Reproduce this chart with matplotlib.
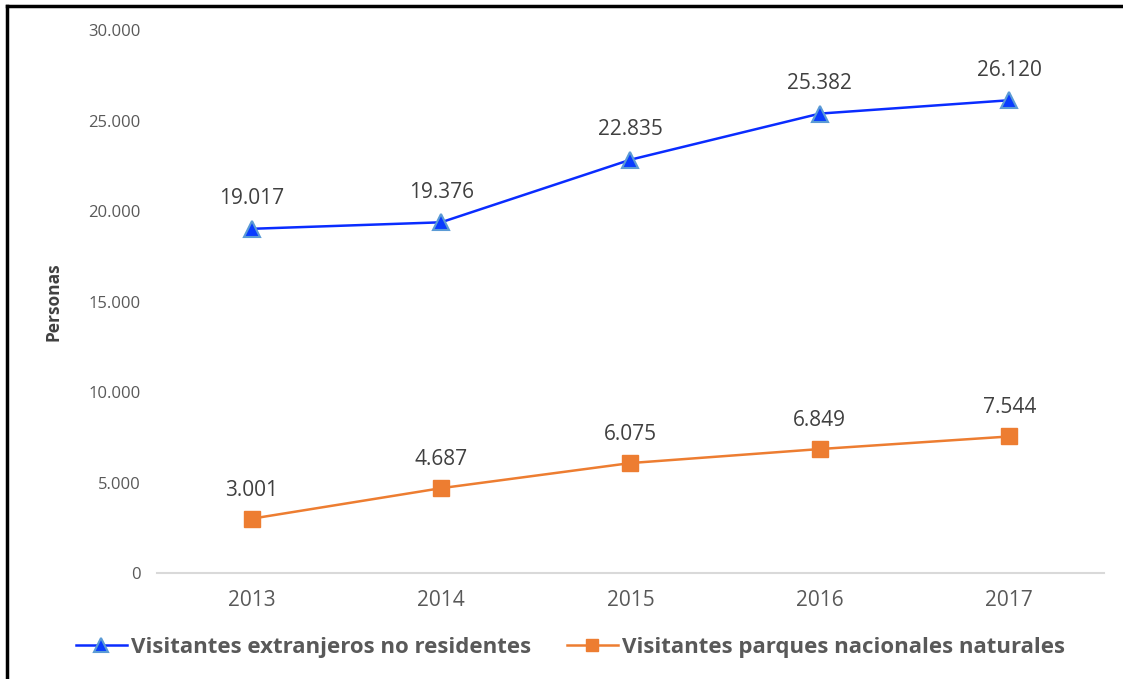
import matplotlib
matplotlib.use("Agg")
import matplotlib.pyplot as plt
from matplotlib.lines import Line2D
from matplotlib import font_manager

years = ["2013", "2014", "2015", "2016", "2017"]
extranjeros = [19017, 19376, 22835, 25382, 26120]
parques = [3001, 4687, 6075, 6849, 7544]
series_names = ["Visitantes extranjeros no residentes", "Visitantes parques nacionales naturales"]
y_ticks = [0, 5000, 10000, 15000, 20000, 25000, 30000]

def fmt(v):
    return f"{v:,}".replace(",", ".")

names = {f.name for f in font_manager.fontManager.ttflist}
base = "Open Sans" if "Open Sans" in names else "DejaVu Sans"
plt.rcParams['font.family'] = [base, 'DejaVu Sans']

fig = plt.figure(figsize=(11.23, 6.79), dpi=100)
ax = fig.add_axes([0.1398, 0.1561, 0.983 - 0.1398, 0.9558 - 0.1561])

x = list(range(len(years)))
ax.plot(x, extranjeros, color="#0a2cff", lw=1.8, marker="^", markersize=12,
        markerfacecolor="#0a3cff", markeredgecolor="#5b9bd5", markeredgewidth=1.5,
        label=series_names[0], zorder=3)
ax.plot(x, parques, color="#ed7d31", lw=1.8, marker="s", markersize=11,
        markerfacecolor="#ed7d31", markeredgecolor="#ed7d31",
        label=series_names[1], zorder=3)

for xi, v in zip(x, extranjeros):
    ax.annotate(fmt(v), (xi, v), xytext=(0, 14), textcoords="offset points",
                ha="center", va="bottom", fontsize=15, color="#404040")
for xi, v in zip(x, parques):
    ax.annotate(fmt(v), (xi, v), xytext=(0, 13), textcoords="offset points",
                ha="center", va="bottom", fontsize=15, color="#404040")

ax.set_xlim(-0.5, 4.5)
ax.set_ylim(0, 30000)
ax.set_xticks(x)
ax.set_xticklabels(years, fontsize=15, color="#595959")
ax.set_yticks(y_ticks)
ax.set_yticklabels([fmt(t) for t in y_ticks], fontsize=12, color="#595959")
ax.tick_params(axis="both", length=0)
ax.tick_params(axis="y", pad=12)
ax.tick_params(axis="x", pad=12)
for s in ["top", "right", "left"]:
    ax.spines[s].set_visible(False)
ax.spines["bottom"].set_color("#d9d9d9")
ax.spines["bottom"].set_linewidth(1.5)

ax.set_ylabel("Personas", fontsize=12.5, fontweight="bold", color="#404040")
ax.yaxis.set_label_coords(-0.1, 0.5)

leg = fig.legend(loc="center", bbox_to_anchor=(0.508, 0.047), ncol=2, frameon=False,
                 prop={"weight": "bold", "size": 16},
                 handlelength=2.3, handletextpad=0.2, columnspacing=1.6,
                 markerscale=0.85)
for t in leg.get_texts():
    t.set_color("#595959")

fig.add_artist(Line2D([0.0065, 0.0065], [0.0, 0.991], transform=fig.transFigure, color="black", lw=2.5))
fig.add_artist(Line2D([0.0065, 1.0], [0.991, 0.991], transform=fig.transFigure, color="black", lw=2.5))

fig.savefig("out.png", dpi=100)
